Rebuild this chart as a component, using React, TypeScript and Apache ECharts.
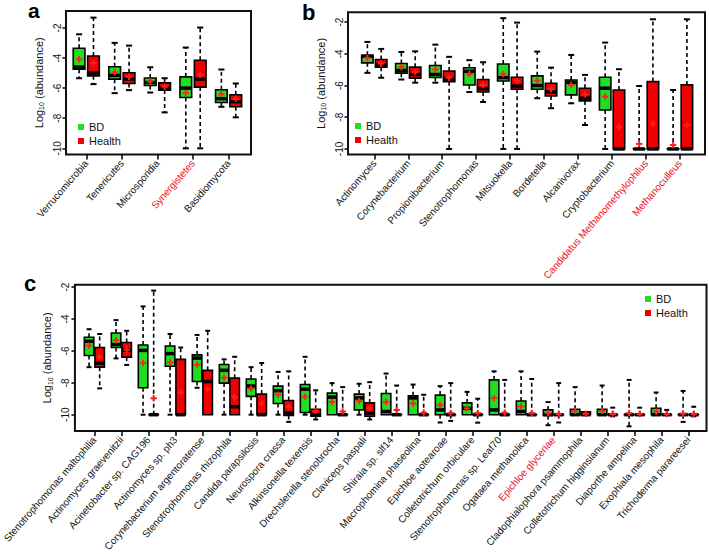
import React, { useEffect, useRef } from 'react';
import * as echarts from 'echarts';

const FONT = '"Liberation Sans", Arial, Helvetica, sans-serif';
const GREEN = '#1ee01e';
const RED = '#f00000';
const MEAN_RED = '#ff2424';
const LABEL_RED = '#e8101c';

// y tick labels (log10 abundance)
const yTicks = [-10, -8, -6, -4, -2];

// names drawn in red on the x axes
const highlighted = ['Synergistetes', 'Candidatus Methanomethylophilus', 'Methanoculleus', 'Epichloe glyceriae'];

// ---------- Panel a ----------  stats: [min, q1, median, q3, max, mean]
const catsA = ['Verrucomicrobia', 'Tenericutes', 'Microsporidia', 'Synergistetes', 'Basidiomycota'];
const bdA = [
  [-5.34, -4.74, -4.6, -3.35, -2.42, -4.08],
  [-6.33, -5.4, -5.15, -4.58, -2.99, -4.94],
  [-6.29, -5.82, -5.62, -5.32, -4.61, -5.56],
  [-10, -6.62, -6.0, -5.25, -3.3, -6.31],
  [-7.24, -6.95, -6.7, -6.11, -4.76, -6.4],
];
const healthA = [
  [-5.73, -5.18, -5.0, -3.86, -1.31, -4.34],
  [-6.13, -5.69, -5.4, -4.98, -3.17, -5.25],
  [-7.61, -6.13, -6.0, -5.65, -5.34, -5.91],
  [-10, -5.93, -5.4, -4.14, -1.97, -5.11],
  [-7.94, -7.24, -6.9, -6.44, -5.69, -6.71],
];

// ---------- Panel b ----------
const catsB = [
  'Actinomyces', 'Corynebacterium', 'Propionibacterium', 'Stenotrophomonas', 'Mitsuokella',
  'Bordetella', 'Alcanivorax', 'Cryptobacterium', 'Candidatus Methanomethylophilus', 'Methanoculleus',
];
const bdB = [
  [-5.2, -4.57, -4.15, -4.09, -3.25, -4.26],
  [-5.62, -5.22, -5.05, -4.61, -3.88, -4.84],
  [-5.82, -5.49, -5.3, -4.74, -3.42, -4.99],
  [-6.41, -5.97, -5.1, -4.88, -4.4, -5.26],
  [-10, -5.71, -5.5, -4.64, -1.75, -5.27],
  [-6.8, -6.23, -6.0, -5.39, -3.86, -5.69],
  [-7.12, -6.59, -5.8, -5.65, -4.07, -5.96],
  [-10, -7.54, -6.17, -5.48, -3.29, -6.7],
  [-10, -10, -10, -10, -6.03, -9.68],
  [-10, -10, -10, -10, -6.28, -9.75],
];
const healthB = [
  [-5.51, -4.84, -4.7, -4.36, -3.69, -4.61],
  [-5.82, -5.53, -5.3, -4.84, -3.84, -5.15],
  [-10, -5.76, -5.6, -5.09, -4.19, -5.51],
  [-7.04, -6.41, -6.2, -5.62, -4.53, -5.97],
  [-10, -6.23, -6.03, -5.48, -2.03, -5.71],
  [-7.43, -6.66, -6.4, -5.86, -4.87, -6.23],
  [-8.49, -6.97, -6.8, -6.17, -5.33, -6.55],
  [-10, -10, -10, -6.28, -4.97, -8.6],
  [-10, -10, -10, -5.75, -1.82, -8.4],
  [-10, -10, -10, -5.96, -1.82, -8.5],
];

// ---------- Panel c ----------
const catsC = [
  'Stenotrophomonas maltophilia', 'Actinomyces graevenitzii', 'Acinetobacter sp. CAG196', 'Actinomyces sp. ph3',
  'Corynebacterium argentoratense', 'Stenotrophomonas rhizophila', 'Candida parapsilosis', 'Neurospora crassa',
  'Alkinsonella texensis', 'Drechslerella stenobrocha', 'Claviceps paspali', 'Shiraia sp. slf14',
  'Macrophomina phaseolina', 'Epichloe aotearoae', 'Colletotrichum orbiculare', 'Stenotrophomonas sp. Leaf70',
  'Ogataea methanolica', 'Epichloe glyceriae', 'Cladophialophora psammophila', 'Colletotrichum higginsianum',
  'Diaporthe ampelina', 'Exophiala mesophila', 'Trichoderma parareesei',
];
const bdC = [
  [-7.02, -6.29, -5.4, -5.14, -4.64, -5.67],
  [-6.47, -5.79, -5.6, -4.88, -4.07, -5.33],
  [-10, -8.31, -5.97, -5.63, -3.21, -6.76],
  [-10, -6.96, -6.17, -5.69, -4.94, -6.72],
  [-8.31, -7.92, -6.45, -6.25, -5.0, -6.88],
  [-10, -8.02, -7.22, -6.85, -6.53, -7.68],
  [-10, -8.85, -8.2, -7.76, -7.02, -8.37],
  [-10, -9.3, -8.5, -8.21, -7.32, -8.75],
  [-10, -9.86, -8.4, -8.11, -6.37, -8.87],
  [-10, -10, -8.9, -8.65, -8.02, -9.2],
  [-10, -9.7, -8.95, -8.71, -8.06, -9.15],
  [-10, -10, -9.8, -8.67, -7.42, -9.2],
  [-10, -10, -8.95, -8.81, -8.11, -9.3],
  [-10.49, -10, -9.7, -8.77, -8.21, -9.4],
  [-10, -10, -9.6, -9.26, -8.57, -9.6],
  [-10, -10, -9.7, -7.82, -7.28, -8.96],
  [-10, -10, -9.8, -9.14, -7.28, -9.48],
  [-10.66, -10.05, -10, -9.7, -9.21, -9.9],
  [-10, -10, -10, -9.66, -8.27, -9.76],
  [-10, -10, -10, -9.66, -8.17, -9.76],
  [-10.73, -10, -10, -10, -7.82, -9.9],
  [-10, -10, -10, -9.6, -8.61, -9.8],
  [-10.45, -10, -10, -10, -8.51, -9.93],
];
const healthC = [
  [-8.35, -7.02, -6.77, -5.79, -4.94, -6.39],
  [-6.88, -6.39, -5.95, -5.47, -4.74, -5.93],
  [-10, -10, -10, -10, -2.22, -8.97],
  [-10, -10, -10, -6.53, -5.79, -8.6],
  [-10, -10, -7.92, -7.22, -4.74, -8.4],
  [-10, -10, -9.5, -7.71, -6.37, -8.9],
  [-10, -10, -10, -8.71, -6.76, -9.3],
  [-10.45, -10.05, -9.9, -9.11, -7.28, -9.5],
  [-10.3, -10.1, -10, -9.66, -8.47, -9.76],
  [-10, -10, -10, -10, -8.27, -9.8],
  [-10.3, -10.1, -9.9, -9.26, -7.96, -9.6],
  [-10, -10, -10, -10, -8.17, -9.7],
  [-10, -10, -10, -10, -8.75, -9.87],
  [-10.39, -10, -10, -10, -8.02, -9.9],
  [-10.5, -10, -10, -10, -9.0, -9.9],
  [-10, -10, -10, -10, -7.82, -9.87],
  [-10, -10, -10, -10, -7.76, -9.9],
  [-10.49, -10, -10, -10, -8.02, -9.96],
  [-10, -10, -10, -9.82, -9.82, -9.95],
  [-10.1, -10, -10, -10, -9.56, -9.96],
  [-10, -10, -10, -10, -9.56, -9.96],
  [-10, -10, -10, -10, -9.7, -9.96],
  [-10.1, -10, -10, -10, -9.5, -9.96],
];

// ---------- layout (pixels / axis extents) ----------
const panels = [
  {
    cats: catsA, bd: bdA, health: healthA,
    grid: { left: 66, top: 11, width: 185, height: 143.5 },
    xMin: 0.43, xMax: 5.63, yMin: -10.41, yMax: -0.87, boxW: 11.7, off: 7.2,
    legend: { left: 78, top: 120.5 },
  },
  {
    cats: catsB, bd: bdB, health: healthB,
    grid: { left: 348, top: 12.3, width: 357, height: 142.2 },
    xMin: 0.226, xMax: 10.736, yMin: -10.35, yMax: -1.38, boxW: 11.5, off: 6.9,
    legend: { left: 355, top: 119.5 },
  },
  {
    cats: catsC, bd: bdC, health: healthC,
    grid: { left: 66, top: 284.7, width: 640.5, height: 154.3 },
    xMin: 0.28, xMax: 23.67, yMin: -11.03, yMax: -1.85, boxW: 9.5, off: 5.3,
    legend: { left: 645, top: 292.5 },
  },
];

function makeRender(offsetPx: number, boxW: number, fill: string) {
  return (params: any, api: any) => {
    const x = api.value(0);
    const py = (v: number) => api.coord([x, v])[1];
    const cx = api.coord([x, api.value(3)])[0] + offsetPx;
    const yMin = py(api.value(1));
    const yQ1 = py(api.value(2));
    const yMed = py(api.value(3));
    const yQ3 = py(api.value(4));
    const yMax = py(api.value(5));
    const yMean = py(api.value(6));
    const half = boxW / 2;
    const capHalf = boxW * 0.26;
    const dash = { stroke: '#000', lineWidth: 1.6, lineDash: [4, 3], fill: null };
    const solid = { stroke: '#000', lineWidth: 2, fill: null };
    const children: any[] = [];
    if (yMax < yQ3 - 0.5) {
      children.push({ type: 'line', shape: { x1: cx, y1: yQ3, x2: cx, y2: yMax }, style: dash });
      children.push({ type: 'line', shape: { x1: cx - capHalf, y1: yMax, x2: cx + capHalf, y2: yMax }, style: solid });
    }
    if (yMin > yQ1 + 0.5) {
      children.push({ type: 'line', shape: { x1: cx, y1: yQ1, x2: cx, y2: yMin }, style: dash });
      children.push({ type: 'line', shape: { x1: cx - capHalf, y1: yMin, x2: cx + capHalf, y2: yMin }, style: solid });
    }
    children.push({
      type: 'rect',
      shape: { x: cx - half, y: yQ3, width: boxW, height: Math.max(yQ1 - yQ3, 0.01) },
      style: { fill, stroke: '#000', lineWidth: 1.6 },
    });
    children.push({
      type: 'line',
      shape: { x1: cx - half, y1: yMed, x2: cx + half, y2: yMed },
      style: { stroke: '#000', lineWidth: 3.5, fill: null },
    });
    const m = 3.2;
    const meanColor = fill === RED ? '#ff1c1c' : MEAN_RED;
    children.push({ type: 'line', shape: { x1: cx - m, y1: yMean, x2: cx + m, y2: yMean }, style: { stroke: meanColor, lineWidth: 2 } });
    children.push({ type: 'line', shape: { x1: cx, y1: yMean - m, x2: cx, y2: yMean + m }, style: { stroke: meanColor, lineWidth: 2 } });
    return { type: 'group', children };
  };
}

export default function App() {
  const ref = useRef<HTMLDivElement>(null);

  useEffect(() => {
    if (!ref.current) return;
    const chart = echarts.init(ref.current, null, { renderer: 'svg' });

    const grids: any[] = [];
    const xAxes: any[] = [];
    const yAxes: any[] = [];
    const series: any[] = [];
    const legends: any[] = [];

    panels.forEach((p, i) => {
      const positions = p.cats.map((_, j) => j + 1);
      grids.push({ ...p.grid, show: true, borderColor: '#111', borderWidth: 2, backgroundColor: 'transparent', containLabel: false });
      xAxes.push({
        gridIndex: i,
        type: 'value',
        min: p.xMin,
        max: p.xMax,
        axisLine: { show: false },
        splitLine: { show: false },
        axisTick: { show: true, length: 5, customValues: positions, lineStyle: { color: '#000', width: 1.5 } },
        axisLabel: {
          customValues: positions,
          rotate: 49,
          margin: 7,
          fontSize: 10,
          fontFamily: FONT,
          color: '#111',
          formatter: (v: number) => {
            const name = p.cats[Math.round(v) - 1] || '';
            return highlighted.includes(name) ? `{r|${name}}` : name;
          },
          rich: { r: { color: LABEL_RED, fontSize: 10, fontFamily: FONT } },
        },
      });
      yAxes.push({
        gridIndex: i,
        type: 'value',
        position: 'left',
        min: p.yMin,
        max: p.yMax,
        axisLine: { show: false },
        splitLine: { show: false },
        axisTick: { show: true, length: 3.5, customValues: yTicks, lineStyle: { color: '#000', width: 1.5 } },
        axisLabel: { customValues: yTicks, rotate: 90, margin: 4, fontSize: 10, fontFamily: FONT, color: '#111' },
        name: '{a|Log}{s|10}{a| (abundance)}',
        nameLocation: 'middle',
        nameRotate: 90,
        nameGap: 21,
        nameMoveOverlap: false,
        nameTextStyle: {
          rich: {
            a: { fontSize: 11, fontFamily: FONT, color: '#111', lineHeight: 13 },
            s: { fontSize: 7, fontFamily: FONT, color: '#111', verticalAlign: 'bottom', lineHeight: 13 },
          },
        },
      });
      series.push({
        type: 'custom',
        name: 'BD',
        xAxisIndex: i,
        yAxisIndex: i,
        coordinateSystem: 'cartesian2d',
        data: p.bd.map((s, j) => [j + 1, ...s]),
        encode: { x: 0, y: [1, 2, 3, 4, 5, 6] },
        itemStyle: { color: GREEN },
        renderItem: makeRender(-p.off, p.boxW, GREEN),
        clip: false,
        z: 3,
      });
      series.push({
        type: 'custom',
        name: 'Health',
        xAxisIndex: i,
        yAxisIndex: i,
        coordinateSystem: 'cartesian2d',
        data: p.health.map((s, j) => [j + 1, ...s]),
        encode: { x: 0, y: [1, 2, 3, 4, 5, 6] },
        itemStyle: { color: RED },
        renderItem: makeRender(p.off, p.boxW, RED),
        clip: false,
        z: 3,
      });
      legends.push({
        orient: 'vertical',
        left: p.legend.left,
        top: p.legend.top,
        padding: 0,
        itemWidth: 6,
        itemHeight: 6,
        itemGap: 1,
        selectedMode: false,
        textStyle: { fontSize: 11, fontFamily: FONT, color: '#111', lineHeight: 13 },
        data: [
          { name: 'BD', icon: 'rect', itemStyle: { color: GREEN } },
          { name: 'Health', icon: 'rect', itemStyle: { color: RED } },
        ],
      });
    });

    chart.setOption({
      animation: false,
      backgroundColor: '#fff',
      grid: grids,
      xAxis: xAxes,
      yAxis: yAxes,
      legend: legends,
      series,
      graphic: [
        { type: 'text', x: 28, y: 0, style: { text: 'a', font: `bold 21px ${FONT}`, fill: '#000' } },
        { type: 'text', x: 302, y: 1, style: { text: 'b', font: `bold 22px ${FONT}`, fill: '#000' } },
        { type: 'text', x: 24, y: 272, style: { text: 'c', font: `bold 22px ${FONT}`, fill: '#000' } },
      ],
    });

    return () => chart.dispose();
  }, []);

  return (
    <div
      ref={ref}
      style={{ position: 'absolute', left: 0, top: 0, width: 709, height: 554, background: '#fff' }}
    />
  );
}
